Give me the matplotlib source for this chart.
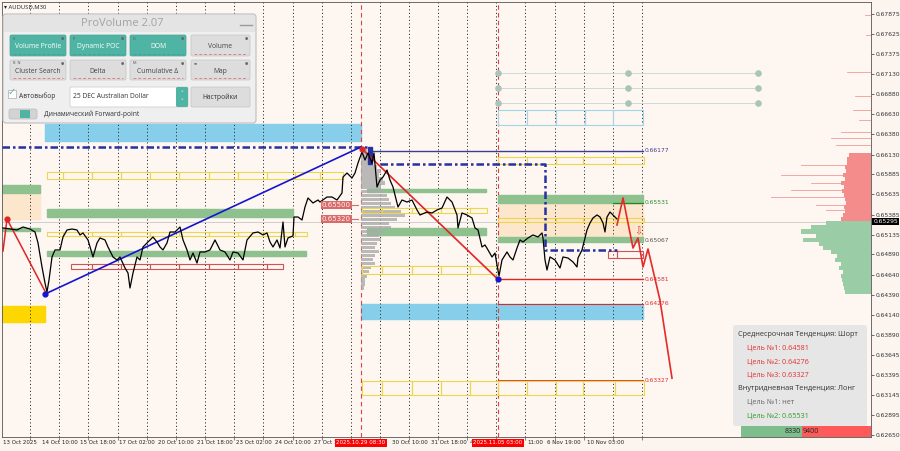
import numpy as np
import matplotlib.pyplot as plt
from matplotlib.patches import Rectangle, FancyBboxPatch

# AUDUSD M30 close (bar position, price)
bar_x = [3, 10, 17, 23, 30, 35, 38, 42, 45, 47,
         49, 52, 55, 60, 63, 67, 72, 77, 80, 83,
         88, 93, 97, 100, 105, 108, 113, 117, 120, 125,
         128, 130, 133, 137, 140, 143, 148, 153, 157, 160,
         163, 167, 170, 175, 180, 183, 187, 190, 193, 197,
         200, 205, 210, 215, 220, 225, 230, 233, 238, 243,
         247, 253, 258, 263, 267, 270, 273, 277, 280, 283,
         285, 288, 293, 294, 298, 302, 305, 308, 313, 318,
         320, 327, 332, 337, 342, 343, 347, 352, 355, 358,
         362, 365, 368, 372, 374, 377, 380, 383, 387, 390,
         393, 398, 402, 407, 412, 417, 420, 427, 432, 437,
         442, 447, 452, 457, 458, 462, 467, 472, 475, 478,
         482, 485, 488, 492, 495, 497, 499, 502, 507, 510,
         513, 517, 520, 523, 528, 533, 538, 542, 543, 545,
         547, 550, 555, 560, 563, 568, 573, 577, 578, 582,
         587, 590, 593, 597, 600, 603, 605, 607, 610, 613,
         617]
close = [.65219, .65206, .65194, .65231, .65206, .65169, .65033, .64735, .64536, .64424,
         .64573, .64859, .64946, .64946, .65107, .65194, .65206, .65194, .65132, .65157,
         .65070, .64859, .65033, .65095, .65070, .64983, .64859, .64822, .64859, .64722,
         .64660, .64474, .64660, .64859, .64822, .64983, .65045, .65107, .65045, .64983,
         .64946, .65033, .65169, .65169, .65231, .65070, .64946, .64822, .64908, .64784,
         .64921, .64921, .64946, .65070, .64946, .64921, .64822, .64921, .64908, .64822,
         .65070, .65157, .65169, .65132, .65157, .65045, .64983, .65070, .64970, .65293,
         .64983, .65095, .65120, .65355, .65355, .65318, .65479, .65591, .65529, .65566,
         .65541, .65603, .65603, .65566, .65653, .65851, .65901, .65839, .65901, .66025,
         .66162, .66062, .66149, .66025, .66149, .65727, .65814, .65851, .65938, .65814,
         .65727, .65479, .65566, .65541, .65566, .65442, .65380, .65417, .65405, .65442,
         .65467, .65603, .65541, .65380, .65219, .65405, .65380, .65343, .65219, .65194,
         .64983, .65008, .64946, .64859, .64908, .64760, .64623, .64822, .64921, .64859,
         .64822, .64970, .65070, .65045, .65095, .65132, .65107, .65157, .65095, .64822,
         .64697, .64859, .64822, .64722, .64859, .64846, .64797, .64735, .64846, .64946,
         .65194, .65281, .65343, .65380, .65355, .65281, .65169, .65355, .65417, .65380,
         .65330]

current_price = 0.65295

# forecast zigzag
fc_x = [617, 623, 633, 638, 643, 648, 660, 672]
fc_price = [0.65256, 0.65591, 0.64970, 0.65095, 0.64735, 0.64958, 0.64323, 0.63355]

# volume profile of the last session (grey, anchored at the 29 Oct marker)
vp_price = [0.66175, 0.66125, 0.66075, 0.66025, 0.65975, 0.65925, 0.65875, 0.65825, 0.65775,
            0.65725, 0.65675, 0.65625, 0.65575, 0.65525, 0.65475, 0.65425, 0.65375, 0.65325,
            0.65275, 0.65225, 0.65175, 0.65125, 0.65075, 0.65025, 0.64975, 0.64925, 0.64875,
            0.64825, 0.64775, 0.64725, 0.64675, 0.64625, 0.64575, 0.64525, 0.64475]
vp_vol = [6, 10, 14, 12, 16, 20, 18, 22, 24, 20, 22, 26, 28, 30, 34, 40, 44, 36,
          28, 30, 22, 18, 20, 16, 14, 18, 14, 12, 14, 10, 8, 6, 4, 4, 3]

# DOM on the right edge
ask_price = [0.66125, 0.66075, 0.66025, 0.65975, 0.65925, 0.65875, 0.65825, 0.65775, 0.65725,
             0.65675, 0.65625, 0.65575, 0.65525, 0.65475, 0.65425, 0.65375, 0.65325]
ask_vol = [22, 24, 24, 26, 25, 28, 26, 30, 27, 29, 27, 26, 25, 27, 26, 28, 30]
ask_spike_price = [0.67860, 0.67615, 0.67155, 0.66860, 0.66680, 0.66560, 0.66410, 0.66340,
                   0.66245, 0.66005, 0.65880, 0.65780, 0.65690, 0.65600, 0.65510, 0.65440]
ask_spike_len = [6, 5, 24, 16, 18, 12, 30, 40, 35, 70, 90, 60, 80, 100, 55, 45]
bid_price = [0.65275, 0.65225, 0.65175, 0.65125, 0.65075, 0.65025, 0.64975, 0.64925, 0.64875,
             0.64825, 0.64775, 0.64725, 0.64675, 0.64625, 0.64575, 0.64525, 0.64475, 0.64425]
bid_vol = [45, 60, 70, 55, 68, 52, 48, 40, 34, 36, 30, 32, 28, 30, 29, 28, 27, 26]
buy_total, sell_total = 8330, 9400

# levels
level_names = ['0.66177', '0.65531', '0.65067', '0.64581', '0.64276', '0.63327']
level_price = [0.66177, 0.65531, 0.65067, 0.64581, 0.64276, 0.63327]
level_color = ['#3A3F8F', '#2E8B2E', '#555555', '#E03030', '#E03030', '#E03030']
poc_price = [0.65504, 0.65330]
poc_text = ['0.65500', '0.65320']

ytick_vals = [0.67875, 0.67625, 0.67375, 0.67130, 0.66880, 0.66630, 0.66380, 0.66130, 0.65885,
              0.65635, 0.65385, 0.65135, 0.64890, 0.64640, 0.64390, 0.64140, 0.63890, 0.63645,
              0.63395, 0.63145, 0.62895, 0.62650]
grid_x = [30, 59, 88, 118, 147, 176, 205, 234, 263, 293, 322, 351, 380, 409, 438, 467, 496,
          525, 555, 584, 613, 642]
# labels partly hidden behind the red markers are shown as they appear
xlab_pos = [3, 42, 80, 119, 158, 197, 236, 275, 314, 392, 431, 470, 527, 547, 587]
xlab_text = ['13 Oct 2025', '14 Oct 10:00', '15 Oct 18:00', '17 Oct 02:00', '20 Oct 10:00',
             '21 Oct 18:00', '23 Oct 02:00', '24 Oct 10:00', '27 Oct 1', '30 Oct 10:00',
             '31 Oct 18:00', '4', '11:00', '6 Nov 19:00', '10 Nov 03:00']
marker_x = [361, 498]
marker_text = ['2025.10.29 08:30', '2025.11.05 03:00']

BG = '#FDF6F1'
fig = plt.figure(figsize=(9, 4.51), dpi=100)
fig.patch.set_facecolor('#FBF4EF')
ax = fig.add_axes([2 / 900, 14 / 451, 869 / 900, 435 / 451])
ax.set_facecolor(BG)
ax.set_xlim(2, 871)
ax.set_ylim(0.62625, 0.68023)


def box(x0, x1, lo, hi, **kw):
    ax.add_patch(Rectangle((x0, lo), x1 - x0, hi - lo, **kw))


def seg_row(edges, lo, hi, color, lw=0.8):
    for a, b in zip(edges[:-1], edges[1:]):
        box(a, b, lo, hi, fill=False, edgecolor=color, lw=lw, zorder=3)


# zones
box(45, 361, 0.66298, 0.66509, color='#87CEEB', zorder=1)
box(361, 643, 0.64089, 0.64275, color='#87CEEB', zorder=1)
box(2, 45, 0.64052, 0.64251, color='#FFD700', zorder=1)
box(2, 40, 0.65330, 0.65740, color='#FCE6CC', zorder=1)
box(498, 643, 0.65095, 0.65541, color='#FCE6CC', zorder=1)
for x0, x1, lo, hi in [(2, 40, 0.65653, 0.65752), (2, 40, 0.65181, 0.65219),
                       (47, 293, 0.65355, 0.65454), (47, 306, 0.64871, 0.64933),
                       (367, 486, 0.65664, 0.65703), (367, 486, 0.65132, 0.65219),
                       (498, 643, 0.65529, 0.65628), (498, 643, 0.65045, 0.65107)]:
    box(x0, x1, lo, hi, color='#8FC18F', zorder=2)

yellow = '#EED64A'
seg_row([47, 63, 92, 121, 150, 179, 209, 238, 267, 295, 320, 343], 0.65826, 0.65913, yellow)
seg_row([47, 63, 92, 121, 150, 179, 209, 238, 267, 295, 307], 0.65120, 0.65169, yellow)
seg_row([362, 382, 412, 441, 470, 487], 0.65405, 0.65467, yellow)
seg_row([362, 382, 412, 441, 470, 498], 0.64648, 0.64747, yellow)
seg_row([498, 527, 556, 583, 615, 644], 0.66013, 0.66100, yellow)
seg_row([498, 527, 556, 583, 615, 644], 0.65293, 0.65343, yellow)
seg_row([362, 382, 412, 441, 470, 498, 527, 556, 583, 615, 644], 0.63146, 0.63320, yellow)
seg_row([71, 92, 121, 150, 179, 209, 238, 267, 283], 0.64710, 0.64772, '#D05454')
seg_row([608, 617, 643], 0.64846, 0.64933, '#D05454')
seg_row([498, 527, 556, 585, 613, 643], 0.66497, 0.66683, '#A3D5EA')

# grid and session markers
for gx in grid_x:
    ax.axvline(gx, color='#333333', lw=0.7, ls=(0, (1.2, 2.4)), zorder=1.5)
for mx in marker_x:
    ax.axvline(mx, color='#E04040', lw=0.8, ls=(0, (4, 3)), zorder=1.6)
ax.axhline(current_price, color='#C8C8C8', lw=0.6, zorder=1.7)

# grey session profile
ax.barh(vp_price, vp_vol, left=361, height=0.00042, color='#AAAAAA', alpha=0.8, zorder=2.5)

# DOM profile
ax.barh(ask_price, [-v for v in ask_vol], left=871, height=0.0005, color='#F58C8C', zorder=2.5)
ax.barh(bid_price, [-v for v in bid_vol], left=871, height=0.0005, color='#9ACDA6', zorder=2.5)
for p, l in zip(ask_spike_price, ask_spike_len):
    ax.plot([871 - l, 871], [p, p], color='#F29A9A', lw=0.6, zorder=2.4)

# top right grid of dots
dot_x = [498, 628, 758]
dot_p = [0.67142, 0.66956, 0.66770]
for p in dot_p:
    ax.plot(dot_x, [p] * 3, color='#C9D6D0', lw=0.6, zorder=2)
    ax.scatter(dot_x, [p] * 3, s=14, color='#A9C4B8', zorder=3)

# trend lines
navy = '#2531A0'
ax.plot([2, 368], [0.66224, 0.66224], color=navy, lw=1.8, ls=(0, (3, 1.2, 1, 1.2)), zorder=4)
ax.plot([370, 643], [0.66177, 0.66177], color='#3A3F8F', lw=1.0, zorder=4)
ax.plot([380, 545, 545, 617], [0.66013, 0.66013, 0.64946, 0.64946], color=navy, lw=1.8,
        ls=(0, (3, 1.2, 1, 1.2)), zorder=4)
box(368, 372, 0.66013, 0.66224, color=navy, zorder=4)
ax.plot([45, 361], [0.64399, 0.66224], color='#1515D0', lw=1.2, zorder=4)
ax.plot([3, 7, 47], [0.64933, 0.65330, 0.64387], color='#E02525', lw=1.1, zorder=4)
ax.plot([362, 498], [0.66199, 0.64581], color='#E02525', lw=1.2, zorder=4)
ax.scatter([7, 362], [0.65330, 0.66199], s=12, color='#E02525', zorder=7)
ax.scatter([45, 498], [0.64399, 0.64581], s=12, color='#1515D0', zorder=7)

ax.plot([498, 643], [0.64581, 0.64581], color='#E02525', lw=1.0, zorder=4)
ax.plot([498, 643], [0.64276, 0.64276], color='#D03030', lw=0.8, zorder=4)
ax.plot([498, 643], [0.63327, 0.63327], color='#D03030', lw=0.6, zorder=4)
ax.plot([613, 643], [0.65531, 0.65531], color='#1E8A1E', lw=0.9, zorder=4)
for name, p, c in zip(level_names, level_price, level_color):
    ax.text(645, p, name, fontsize=4.3, color=c, va='center', ha='left', zorder=8)

# dynamic POC labels
for p, t in zip(poc_price, poc_text):
    ax.text(351, p, t, fontsize=5, color='#FFF1F1', ha='right', va='center', zorder=8,
            bbox=dict(facecolor='#D86A6A', edgecolor='none', pad=0.7))
    ax.plot([352, 358], [p, p], color='#D86A6A', lw=0.8, zorder=8)

# price and forecast
ax.plot(bar_x, close, color='black', lw=0.9, zorder=6)
ax.plot(fc_x, fc_price, color='#E52A2A', lw=1.2, zorder=6)
ax.text(638, 0.65181, '⇩', fontsize=7, color='#E04040', ha='center', va='center', zorder=8,
        family='DejaVu Sans')

# axes
for s in ax.spines.values():
    s.set_color('#555555')
    s.set_linewidth(0.6)
ax.set_xticks(grid_x)
ax.tick_params(axis='x', length=2, width=0.5, labelbottom=False, color='#555555')
ax.yaxis.tick_right()
ax.set_yticks(ytick_vals)
ax.set_yticklabels([f'{v:.5f}' for v in ytick_vals])
ax.tick_params(axis='y', length=2, width=0.5, labelsize=4.3, pad=1.5, colors='#333333')

xt = ax.get_xaxis_transform()
for pos, t in zip(xlab_pos, xlab_text):
    ax.text(pos, -0.008, t, transform=xt, fontsize=4.0, color='#222222', ha='left', va='top',
            clip_on=False)
for pos, t in zip(marker_x, marker_text):
    ax.text(pos, -0.008, t, transform=xt, fontsize=4.0, color='white', ha='center', va='top',
            clip_on=False, zorder=9,
            bbox=dict(facecolor='#FF0000', edgecolor='none', pad=1.0))
yt = ax.get_yaxis_transform()
ax.text(1.003, current_price, f'{current_price:.5f}', transform=yt, fontsize=4.3, color='white',
        ha='left', va='center', clip_on=False, zorder=9,
        bbox=dict(facecolor='black', edgecolor='none', pad=0.8))

# overlay for widgets
ui = fig.add_axes([0, 0, 1, 1])
ui.set_xlim(0, 900)
ui.set_ylim(451, 0)
ui.axis('off')
ui.patch.set_alpha(0)
fam = ['Open Sans', 'DejaVu Sans']

ui.text(4, 7, '▾ AUDUSD,M30', fontsize=4.2, color='#222222', va='center', family=fam)

ui.add_patch(FancyBboxPatch((3, 14), 253, 109, boxstyle='round,pad=0,rounding_size=3',
                            fc='#EFEFEF', ec='#BEBEBE', lw=0.8))
ui.add_patch(Rectangle((4, 15), 251, 17, fc='#E4E4E4', ec='none'))
ui.text(122, 23, 'ProVolume 2.07', ha='center', va='center', fontsize=8, color='#A2A2A2',
        family=fam)
ui.plot([240, 252], [25, 25], color='#9A9A9A', lw=1)

teal = '#50B4A4'
buttons = [('Volume Profile', 10, 35, 56, 21, True, 'V'), ('Dynamic POC', 70, 35, 56, 21, True, 'P'),
           ('DOM', 130, 35, 56, 21, True, 'D'), ('Volume', 191, 35, 59, 21, False, ''),
           ('Cluster Search', 10, 60, 56, 20, False, 'B  N'), ('Delta', 70, 60, 56, 20, False, ''),
           ('Cumulative Δ', 130, 60, 56, 20, False, 'M'), ('Map', 191, 60, 59, 20, False, '≡')]
for lab, x, y, w, h, on, tag in buttons:
    ui.add_patch(FancyBboxPatch((x, y), w, h, boxstyle='round,pad=0,rounding_size=1.5',
                                fc=teal if on else '#DDDDDD', ec='#46A595' if on else '#C4C4C4',
                                lw=0.5))
    ui.text(x + w / 2, y + h / 2 + 1.5, lab, ha='center', va='center', fontsize=4.9,
            color='white' if on else '#444444', family=fam)
    if tag:
        ui.text(x + 3, y + 3.5, tag, fontsize=2.8, color='#555555', va='center', family=fam)
    ui.text(x + w - 4, y + 3.5, '●', fontsize=2.6, color='#666666', ha='center', va='center')
    ui.plot([x + 3, x + w - 3], [y + h - 2, y + h - 2], color='#D86060' if not on else '#3E9A8A',
            lw=0.5, ls=(0, (4, 3)))

ui.add_patch(Rectangle((8, 90), 8, 8, fc='white', ec='#AAAAAA', lw=0.5))
ui.text(12, 93, '✓', fontsize=7, color=teal, ha='center', va='center', family=fam)
ui.text(19, 96, 'Автовыбор', fontsize=4.8, color='#333333', va='center', family=fam)
ui.add_patch(FancyBboxPatch((70, 87), 118, 20, boxstyle='round,pad=0,rounding_size=1.5',
                            fc='white', ec='#C8C8C8', lw=0.5))
ui.text(73, 97, '25 DEC Australian Dollar', fontsize=4.8, color='#333333', va='center',
        family=fam)
ui.add_patch(FancyBboxPatch((176, 87), 12, 20, boxstyle='round,pad=0,rounding_size=1.5',
                            fc=teal, ec='none'))
ui.text(182, 93, '˄', fontsize=4, color='white', ha='center', va='center')
ui.text(182, 101, '˅', fontsize=4, color='white', ha='center', va='center')
ui.add_patch(FancyBboxPatch((191, 87), 59, 20, boxstyle='round,pad=0,rounding_size=1.5',
                            fc='#DDDDDD', ec='#C4C4C4', lw=0.5))
ui.text(220, 97, 'Настройки', fontsize=4.9, color='#333333', ha='center', va='center',
        family=fam)
ui.add_patch(FancyBboxPatch((9, 109), 28, 10, boxstyle='round,pad=0,rounding_size=2',
                            fc='#D3D3D3', ec='#BBBBBB', lw=0.5))
ui.add_patch(Rectangle((20, 110), 10, 8, fc=teal, ec='none'))
ui.text(44, 114, 'Динамический Forward-point', fontsize=4.8, color='#333333', va='center',
        family=fam)

# signal box
ui.add_patch(FancyBboxPatch((733, 325), 134, 101, boxstyle='round,pad=0,rounding_size=3',
                            fc='#E6E6E6', ec='none'))
info = [('Среднесрочная Тенденция: Шорт', 738, 335, '#333333'),
        ('Цель №1: 0.64581', 747, 348, '#E03030'),
        ('Цель №2: 0.64276', 747, 362, '#E03030'),
        ('Цель №3: 0.63327', 747, 375, '#E03030'),
        ('Внутридневная Тенденция: Лонг', 738, 388, '#333333'),
        ('Цель №1: нет', 747, 402, '#666666'),
        ('Цель №2: 0.65531', 747, 416, '#2E9A2E')]
for t, x, y, c in info:
    ui.text(x, y, t, fontsize=5.2, color=c, va='center', family=fam)

bar_w = 130
gw = bar_w * buy_total / (buy_total + sell_total)
ui.add_patch(Rectangle((741, 426), gw, 11, fc='#7DBE8C', ec='none'))
ui.add_patch(Rectangle((741 + gw, 426), bar_w - gw, 11, fc='#FF5A5A', ec='none'))
ui.text(741 + gw - 1, 431.5, str(buy_total), fontsize=5, color='#222222', ha='right',
        va='center', family=fam)
ui.text(741 + gw + 1, 431.5, str(sell_total), fontsize=5, color='#222222', ha='left',
        va='center', family=fam)

fig.savefig('out.png', dpi=100, facecolor=fig.get_facecolor())
